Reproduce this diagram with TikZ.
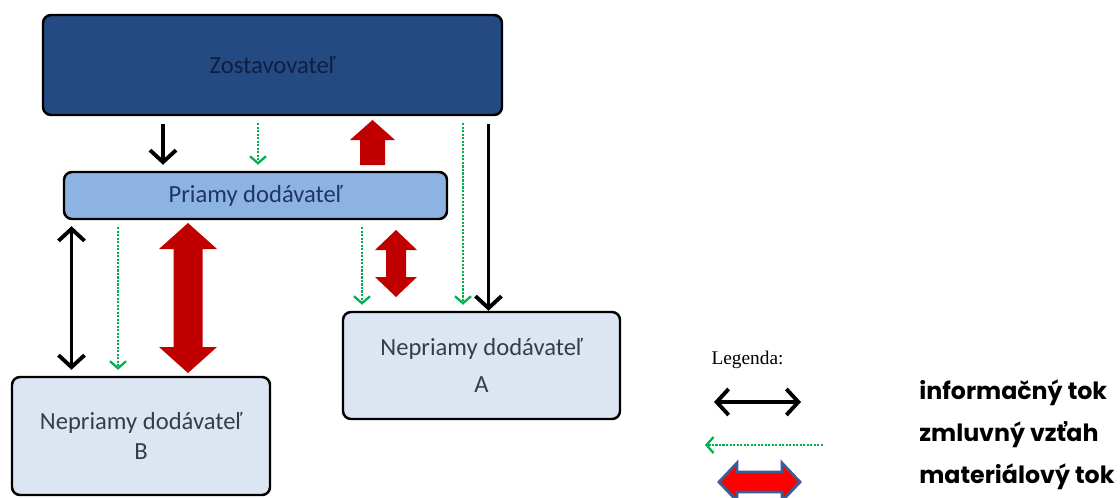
\documentclass[tikz,border=0pt]{standalone}
\usepackage{fontspec}
\setmainfont{Carlito}
\newfontfamily\legfont{Poppins}
\newfontfamily\serfont{Liberation Serif}
\usetikzlibrary{arrows.meta}

\definecolor{zostblue}{RGB}{36,74,130}
\definecolor{zosttext}{RGB}{14,30,68}
\definecolor{pdblue}{RGB}{141,179,226}
\definecolor{pdtext}{RGB}{30,54,100}
\definecolor{ndblue}{RGB}{220,230,242}
\definecolor{ndtext}{RGB}{55,60,70}
\definecolor{zmgreen}{RGB}{0,176,80}
\definecolor{matred}{RGB}{192,0,0}
\definecolor{legblue}{RGB}{60,92,150}

% vertical double block arrow: x, top, bottom, shaft half, head half, head length
\newcommand{\vdarrow}[6]{%
  \fill[matred] (#1,#2) -- ({#1+#5},{#2-#6}) -- ({#1+#4},{#2-#6})
    -- ({#1+#4},{#3+#6}) -- ({#1+#5},{#3+#6}) -- (#1,#3)
    -- ({#1-#5},{#3+#6}) -- ({#1-#4},{#3+#6}) -- ({#1-#4},{#2-#6})
    -- ({#1-#5},{#2-#6}) -- cycle;}

\begin{document}
\begin{tikzpicture}
  [box/.style={draw=black,line width=1.4pt,rounded corners=0.16cm,align=center,inner sep=0pt},
   barb/.tip={Straight Barb[length=0.24cm,width=0.52cm,line width=2.2pt]},
   gbarb/.tip={Straight Barb[length=0.14cm,width=0.32cm,line width=1.3pt]},
   info/.style={line width=2.2pt,barb-barb,shorten <=0.12cm,shorten >=0.12cm},
   infodown/.style={line width=2.2pt,-barb,shorten <=0.16cm,shorten >=0.12cm},
   zmluva/.style={zmgreen,line width=1.3pt,dash pattern=on 1.2pt off 0.8pt,-gbarb,shorten <=0.14cm,shorten >=0.12cm},
   legtext/.style={anchor=west,inner sep=0pt,font=\legfont\bfseries\fontsize{13.5}{15}\selectfont}]
  \useasboundingbox (0,0) rectangle (22.4,-9.96);

  \node[box,fill=zostblue,text=zosttext,minimum width=9.18cm,minimum height=2cm,font=\fontsize{14}{16}\selectfont] (zost) at (5.45,-1.3) {Zostavovateľ};
  \node[box,fill=pdblue,text=pdtext,minimum width=7.66cm,minimum height=0.94cm,font=\fontsize{14}{16}\selectfont] (pd) at (5.11,-3.91) {Priamy dodávateľ};
  \node[box,fill=ndblue,text=ndtext,minimum width=5.54cm,minimum height=2.14cm,font=\fontsize{14}{21}\selectfont] (ndA) at (9.63,-7.31) {Nepriamy dodávateľ\\A};
  \node[box,fill=ndblue,text=ndtext,minimum width=5.16cm,minimum height=2.36cm,font=\fontsize{14}{17}\selectfont] (ndB) at (2.82,-8.72) {Nepriamy dodávateľ\\B};

  % informacny tok
  \draw[infodown] (3.26,0 |- zost.south) -- (3.26,0 |- pd.north);
  \draw[infodown,shorten >=0pt] (9.77,0 |- zost.south) -- (9.77,0 |- ndA.north);
  \draw[info] (1.43,0 |- pd.south) -- (1.43,0 |- ndB.north);

  % zmluvny vztah
  \foreach \x/\a/\b in {5.16/zost/pd,9.26/zost/ndA,2.36/pd/ndB,7.24/pd/ndA}
    \draw[zmluva] (\x,0 |- \a.south) -- (\x,0 |- \b.north);

  % materialovy tok
  \fill[matred] (7.45,-2.4) -- (7.9,-2.8) -- (7.7,-2.8) -- (7.7,-3.3)
    -- (7.2,-3.3) -- (7.2,-2.8) -- (7.0,-2.8) -- cycle;
  \vdarrow{3.76}{-4.46}{-7.46}{0.29}{0.58}{0.52}
  \vdarrow{7.92}{-4.6}{-5.94}{0.2}{0.42}{0.4}

  % legenda
  \node[font=\serfont\fontsize{11}{13}\selectfont,inner sep=0pt] (leg) at (14.95,-7.2) {Legenda:};
  \coordinate (i1) at (14.28,-8.04);
  \coordinate (i2) at (16.02,-8.04);
  \draw[info,shorten <=0pt,shorten >=0pt] (i1) -- (i2);
  \coordinate (z1) at (16.46,-8.9);
  \coordinate (z2) at (14.1,-8.9);
  \draw[zmluva,shorten <=0pt,shorten >=0pt] (z1) -- (z2);
  \draw[legblue,line width=1.6pt,fill=red,line join=miter] (14.38,-9.64) -- (14.74,-9.26) -- (14.74,-9.44)
    -- (15.64,-9.44) -- (15.64,-9.26) -- (16.0,-9.64) -- (15.64,-10.02) -- (15.64,-9.84)
    -- (14.74,-9.84) -- (14.74,-10.02) -- cycle;

  \node[legtext] (t1) at (18.38,-7.86) {informačný tok};
  \node[legtext] (t2) at (18.38,-8.7) {zmluvný vzťah};
  \node[legtext] (t3) at (18.38,-9.54) {materiálový tok};
\end{tikzpicture}
\end{document}
